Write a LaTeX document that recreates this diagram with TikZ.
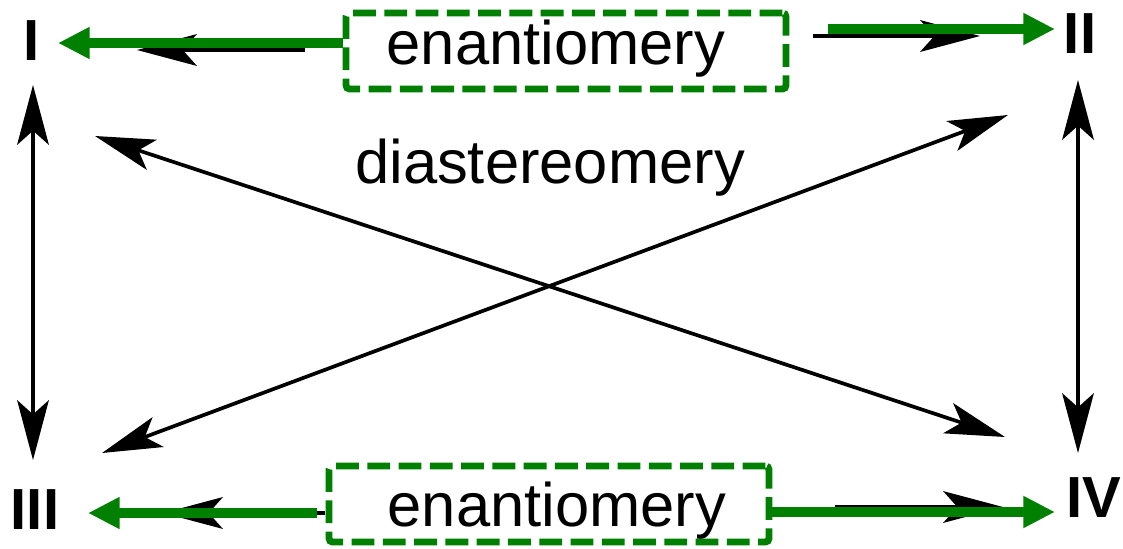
\documentclass[tikz,border=0pt]{standalone}
\usepackage{fontspec}
\setmainfont{Liberation Sans}
\usepackage{xcolor}
\usetikzlibrary{arrows.meta}
\definecolor{verde}{RGB}{0,128,0}

\begin{document}
\begin{tikzpicture}[x=0.02cm, y=-0.02cm,
        >={Stealth[length=34pt, width=18pt, inset=8pt]},
        etiq/.style={font=\fontsize{33}{33}\selectfont\bfseries, inner sep=0pt},
        caja/.style={draw=verde, dash pattern=on 13pt off 4.8pt, line width=3.9pt,
          rounded corners=2pt, minimum width=8.8cm, minimum height=1.52cm, inner sep=0pt},
        texto/.style={font=\fontsize{35}{40}\selectfont, inner sep=0pt},
        negra/.style={line width=2.1pt},
        flechav/.style={draw=verde, line width=5.9pt, -{Triangle[length=18pt, width=17pt]}}]
      % escala del dibujo: 1 unidad = 1 pixel de la figura original
      \useasboundingbox (0,0) rectangle (1123,548);
      % Isomeros
      \node[etiq] (I) at (32,41) {I};
      \node[etiq] (II) at (1080,34) {II};
      \node[etiq] (III) at (35,510) {III};
      \node[etiq] (IV) at (1094,498) {IV};
      % Cajas de enantiomeria
      \node[caja] (enA) at (566,51) {};
      \node[texto] (enAt) at (556,49) {enantiomery};
      \node[caja] (enB) at (549,504) {};
      \node[texto] (enBt) at (557,511) {enantiomery};
      \node[texto] (dia) at (550,168) {diastereomery};
      % Extremos de las flechas
      \coordinate (IarrA) at (33,85);   \coordinate (IIIarrA) at (33,460);
      \coordinate (IIarrA) at (1078,80); \coordinate (IVarrA) at (1078,453);
      \coordinate (Idiag) at (95,136);  \coordinate (IVdiag) at (1005,437);
      \coordinate (IIIdiag) at (102,453); \coordinate (IIdiag) at (1008,115);
      % Flechas negras originales (bajo las verdes)
      \draw[negra, ->] (305,50) -- (137,50);
      \draw[negra, ->] (813,36) -- (980,36);
      \draw[negra, ->] (325,513) -- (163,513);
      \draw[negra, ->] (835,507) -- (1003,507);
      % Relaciones verticales
      \draw[negra, <->] (IarrA) -- (IIIarrA);
      \draw[negra, <->] (IIarrA) -- (IVarrA);
      % Diagonales (diastereomeria)
      \draw[negra, <->] (Idiag) -- (IVdiag);
      \draw[negra, <->] (IIIdiag) -- (IIdiag);
      % Flechas verdes de enantiomeria
      \coordinate (tI) at (58,43);    \coordinate (tII) at (1055,29);
      \coordinate (tIII) at (88,513); \coordinate (tIV) at (1055,512);
      \draw[flechav] (enA.west |- tI) -- (tI);
      \draw[flechav] (828,29) -- (tII);
      \draw[flechav] (317,513) -- (tIII);
      \draw[flechav] (enB.east |- tIV) -- (tIV);
\end{tikzpicture}
\end{document}
